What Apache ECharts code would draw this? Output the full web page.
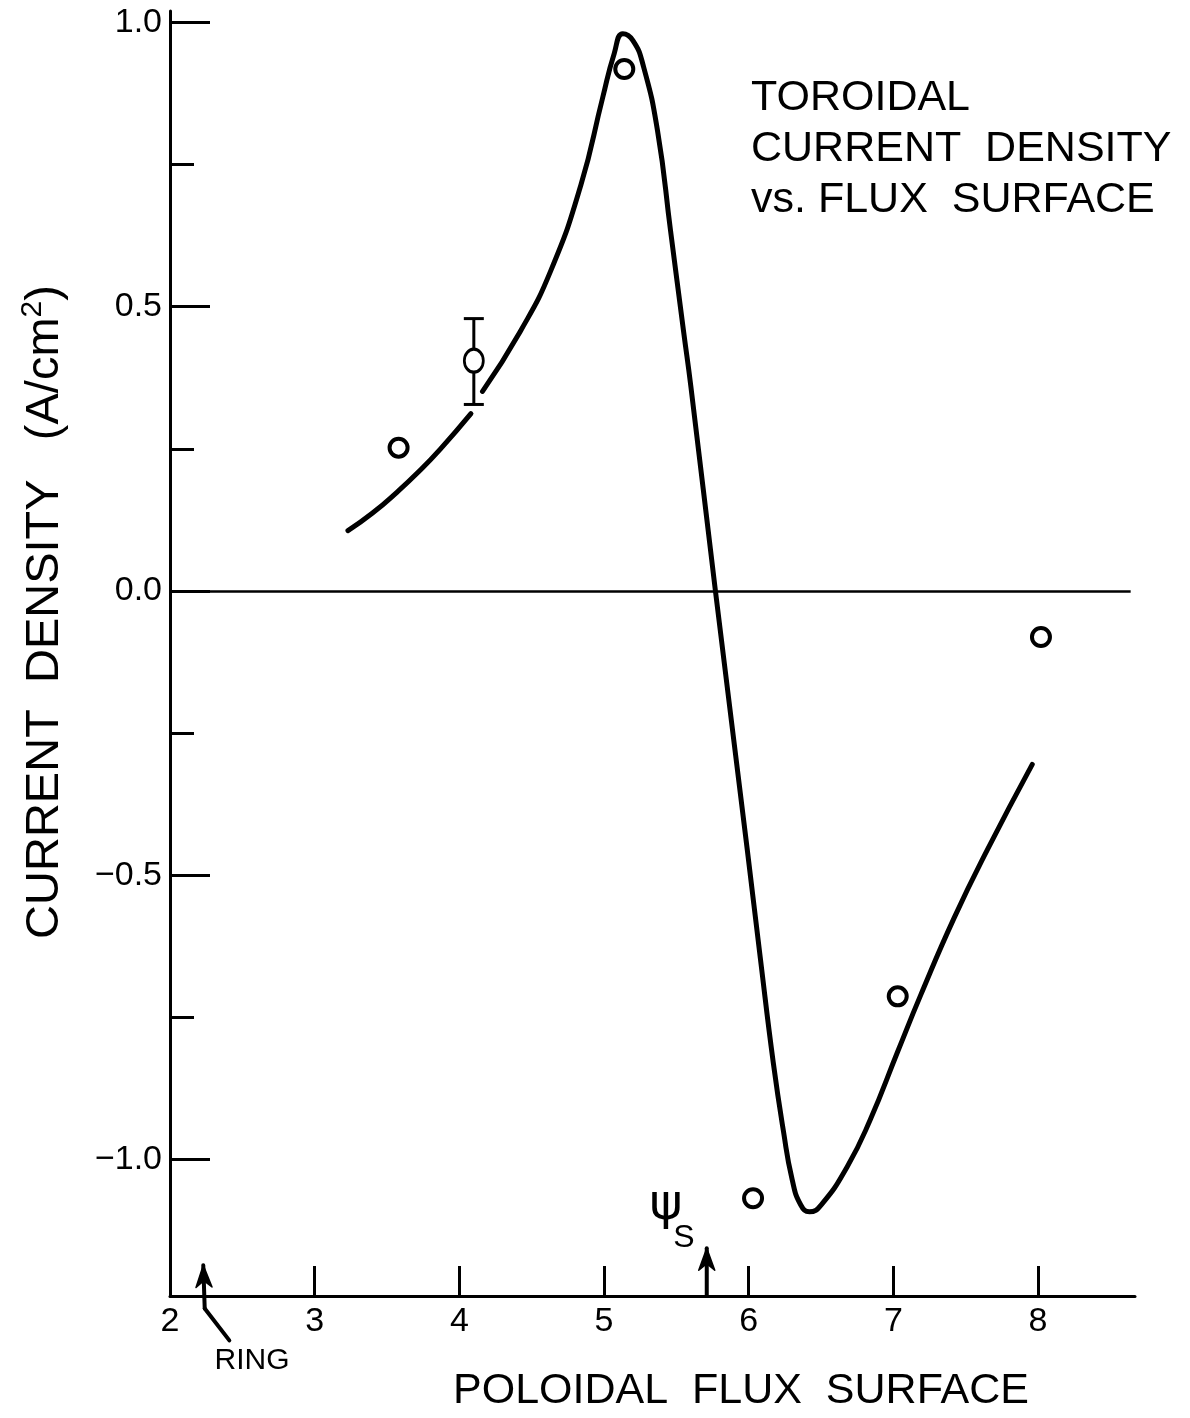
<!DOCTYPE html>
<html><head><meta charset="utf-8">
<script src="https://cdn.jsdelivr.net/npm/echarts@6/dist/echarts.min.js"></script>
<style>html,body{margin:0;padding:0;background:#fff}#c{width:1190px;height:1418px}</style>
</head><body><div id="c"></div>
<script>
// ---- data ----
const xTickValues = [3, 4, 5, 6, 7, 8];
const xLabelValues = [2, 3, 4, 5, 6, 7, 8];
const yLabelValues = [-1.0, -0.5, 0.0, 0.5, 1.0];
const yMinorValues = [-0.75, -0.25, 0.25, 0.75];

// theoretical curve, lower segment (ends behind error bar)
const fitLowX = [3.23, 3.40, 3.57, 3.72, 3.87, 4.08];
const fitLowY = [0.106, 0.137, 0.174, 0.210, 0.250, 0.312];
// theoretical curve, main segment
const fitHighX = [4.16, 4.42, 4.63, 4.84, 4.99, 5.07, 5.13, 5.20, 5.27, 5.37, 5.46, 5.55, 5.60, 5.77, 5.99, 6.08, 6.17, 6.24, 6.30, 6.36, 6.42, 6.50, 6.68, 6.84, 7.03, 7.19, 7.42, 7.65, 7.96];
const fitHighY = [0.351, 0.456, 0.562, 0.714, 0.867, 0.945, 0.980, 0.968, 0.925, 0.809, 0.633, 0.456, 0.360, 0.000, -0.455, -0.645, -0.830, -0.950, -1.035, -1.080, -1.092, -1.080, -1.013, -0.930, -0.810, -0.710, -0.575, -0.455, -0.305];

// measured points
const measX = [3.58, 5.14, 6.03, 7.03, 8.02];
const measY = [0.252, 0.918, -1.068, -0.713, -0.081];
// measured point with error bar
const errX = [4.10];
const errY = [0.405];
const errLow = [0.328];
const errHigh = [0.479];

// annotation arrows: [x1, y1, x2, y2, hasHead]
const psiS = 5.71;
const ringX = 2.23;
const arrowSegs = [
  [psiS, -1.24, psiS, -1.156, 1],
  [ringX + 0.01, -1.262, ringX, -1.186, 1],
  [ringX + 0.18, -1.318, ringX + 0.01, -1.262, 0]
];

const FONT = 'Liberation Sans';
const zip = (a, b) => a.map((v, i) => [v, b[i]]);

const chart = echarts.init(document.getElementById('c'), null, {renderer: 'canvas'});
const option = {
  backgroundColor: '#fff',
  animation: false,
  grid: {left: 170, right: 55, top: 11, bottom: 122, containLabel: false},
  xAxis: {
    type: 'value', min: 2, max: 8.67,
    axisLine: {show: true, onZero: false, lineStyle: {color: '#000', width: 3}},
    axisTick: {show: true, inside: true, length: 30, lineStyle: {color: '#000', width: 3}, customValues: xTickValues},
    axisLabel: {show: true, color: '#000', fontFamily: FONT, fontSize: 34, margin: 9, customValues: xLabelValues, formatter: v => String(v)},
    splitLine: {show: false}
  },
  yAxis: [{
    type: 'value', min: -1.24, max: 1.02,
    axisLine: {show: true, onZero: false, lineStyle: {color: '#000', width: 3}},
    axisTick: {show: true, inside: true, length: 40, lineStyle: {color: '#000', width: 3}, customValues: yLabelValues},
    axisLabel: {show: true, color: '#000', fontFamily: FONT, fontSize: 34, margin: 8, customValues: yLabelValues,
      formatter: v => (v < 0 ? '\u2212' : '') + Math.abs(v).toFixed(1)},
    splitLine: {show: false}
  }, {
    type: 'value', min: -1.24, max: 1.02, position: 'left',
    axisLine: {show: false},
    axisTick: {show: true, inside: true, length: 24, lineStyle: {color: '#000', width: 3}, customValues: yMinorValues},
    axisLabel: {show: false},
    splitLine: {show: false}
  }],
  series: [
    {
      type: 'line', name: 'fitLow', data: zip(fitLowX, fitLowY), smooth: 0.5, symbol: 'none',
      lineStyle: {color: '#000', width: 5, cap: 'round'}
    },
    {
      type: 'line', name: 'fitHigh', data: zip(fitHighX, fitHighY), smooth: 0.5, symbol: 'none',
      lineStyle: {color: '#000', width: 5, cap: 'round', join: 'round'},
      markLine: {
        silent: true, symbol: 'none', label: {show: false},
        lineStyle: {color: '#000', width: 2.5, type: 'solid'},
        data: [[{coord: [2, 0]}, {coord: [8.64, 0]}]]
      }
    },
    {
      type: 'scatter', name: 'measured', data: zip(measX, measY), symbol: 'circle', symbolSize: 18,
      itemStyle: {color: '#fff', borderColor: '#000', borderWidth: 4, opacity: 1}, z: 5
    },
    {
      type: 'custom', name: 'errorbar', z: 4,
      data: errX.map((x, i) => [x, errLow[i], errHigh[i]]),
      renderItem: (params, api) => {
        const lo = api.coord([api.value(0), api.value(1)]);
        const hi = api.coord([api.value(0), api.value(2)]);
        const hw = 10;
        const st = {stroke: '#000', lineWidth: 3};
        return {type: 'group', children: [
          {type: 'line', shape: {x1: lo[0], y1: lo[1], x2: hi[0], y2: hi[1]}, style: st},
          {type: 'line', shape: {x1: lo[0] - hw, y1: lo[1], x2: lo[0] + hw, y2: lo[1]}, style: st},
          {type: 'line', shape: {x1: hi[0] - hw, y1: hi[1], x2: hi[0] + hw, y2: hi[1]}, style: st}
        ]};
      }
    },
    {
      type: 'scatter', name: 'measuredErr', data: zip(errX, errY), symbol: 'circle', symbolSize: [19, 23],
      itemStyle: {color: '#fff', borderColor: '#000', borderWidth: 3, opacity: 1}, z: 6
    },
    {
      type: 'custom', name: 'arrows', z: 7, clip: false,
      data: arrowSegs,
      renderItem: (params, api) => {
        const p1 = api.coord([api.value(0), api.value(1)]);
        const p2 = api.coord([api.value(2), api.value(3)]);
        const children = [{type: 'line', shape: {x1: p1[0], y1: p1[1], x2: p2[0], y2: p2[1]}, style: {stroke: '#000', lineWidth: 4, lineCap: 'round'}}];
        if (api.value(4)) {
          const dx = p2[0] - p1[0], dy = p2[1] - p1[1];
          const len = Math.sqrt(dx * dx + dy * dy);
          const ux = dx / len, uy = dy / len;
          const L = 22, W = 8;
          const bx = p2[0] - ux * L, by = p2[1] - uy * L;
          const notchX = p2[0] - ux * L * 0.7, notchY = p2[1] - uy * L * 0.7;
          children.push({type: 'polygon', shape: {points: [
            [p2[0], p2[1]], [bx - uy * W, by + ux * W], [notchX, notchY], [bx + uy * W, by - ux * W]
          ]}, style: {fill: '#000', stroke: '#000', lineWidth: 1.5, lineJoin: 'round'}});
        }
        return {type: 'group', children};
      }
    }
  ],
  graphic: [
    {type: 'text', left: 751, top: 73, style: {text: 'TOROIDAL\nCURRENT  DENSITY\nvs. FLUX  SURFACE', fill: '#000', fontFamily: FONT, fontSize: 43, lineHeight: 51}},
    {type: 'text', x: 741, y: 1391, style: {text: 'POLOIDAL  FLUX  SURFACE', fill: '#000', fontFamily: FONT, fontSize: 43, align: 'center', verticalAlign: 'middle'}},
    {type: 'text', x: 45, y: 612, rotation: Math.PI / 2, style: {
      text: 'CURRENT  DENSITY   (A/cm{s|2})', fill: '#000', fontFamily: FONT, fontSize: 47, lineHeight: 54,
      align: 'center', verticalAlign: 'middle',
      rich: {s: {fontFamily: FONT, fontSize: 30, verticalAlign: 'top', lineHeight: 54, fill: '#000'}}
    }},
    {type: 'text', x: 252, y: 1361, style: {text: 'RING', fill: '#000', fontFamily: FONT, fontSize: 30, align: 'center', verticalAlign: 'middle'}},
    {type: 'text', x: 666, y: 1206, style: {text: '\u03C8', fill: '#000', fontFamily: 'DejaVu Sans', fontSize: 50, align: 'center', verticalAlign: 'middle'}},
    {type: 'text', x: 684, y: 1238, style: {text: 'S', fill: '#000', fontFamily: FONT, fontSize: 32, align: 'center', verticalAlign: 'middle'}}
  ]
};
chart.setOption(option);
</script>
</body></html>
